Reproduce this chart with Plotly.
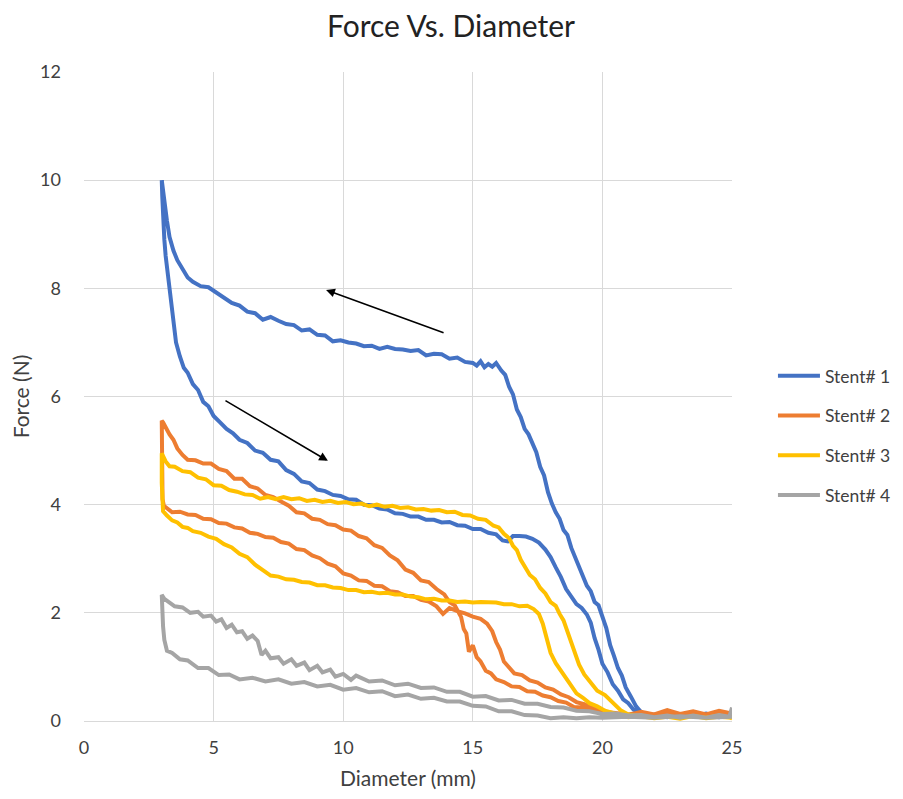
import plotly.graph_objects as go

# ---------------- data (diameter mm, force N) ----------------
stent1_crimp = [
    (25.0, 0.12), (24.5, 0.08), (24.0, 0.14), (23.5, 0.09), (23.0, 0.13), (22.5, 0.07),
    (22.0, 0.12), (21.7, 0.09), (21.5, 0.16), (21.3, 0.27), (21.1, 0.45), (20.9, 0.62),
    (20.75, 0.84), (20.6, 0.98), (20.45, 1.2), (20.3, 1.4), (20.15, 1.72), (20.0, 1.96),
    (19.85, 2.14), (19.7, 2.2), (19.55, 2.4), (19.4, 2.5), (19.25, 2.68), (19.1, 2.86),
    (18.95, 3.04), (18.8, 3.2), (18.65, 3.44), (18.5, 3.53), (18.35, 3.74), (18.2, 3.86),
    (18.05, 4.02), (17.9, 4.23), (17.75, 4.54), (17.6, 4.7), (17.45, 4.97), (17.3, 5.13),
    (17.15, 5.3), (17.0, 5.4), (16.85, 5.62), (16.7, 5.76), (16.55, 6.04), (16.4, 6.18),
    (16.25, 6.4), (16.1, 6.48), (15.9, 6.62), (15.75, 6.55), (15.6, 6.6), (15.45, 6.54),
    (15.3, 6.65), (15.15, 6.57), (15.0, 6.62), (14.7, 6.64), (14.4, 6.72), (14.1, 6.7),
    (13.8, 6.78), (13.5, 6.79), (13.2, 6.76), (12.9, 6.86), (12.6, 6.84), (12.3, 6.87),
    (12.0, 6.88), (11.7, 6.92), (11.4, 6.88), (11.1, 6.94), (10.8, 6.93), (10.5, 6.98),
    (10.2, 7.0), (9.9, 7.04), (9.6, 7.02), (9.3, 7.13), (9.0, 7.14), (8.7, 7.24),
    (8.4, 7.22), (8.1, 7.32), (7.8, 7.34), (7.5, 7.4), (7.2, 7.47), (6.9, 7.42),
    (6.6, 7.54), (6.3, 7.57), (6.0, 7.68), (5.7, 7.73), (5.4, 7.82), (5.1, 7.93),
    (4.8, 8.02), (4.5, 8.04), (4.2, 8.12), (4.0, 8.2), (3.8, 8.35), (3.6, 8.52),
    (3.45, 8.7), (3.3, 8.95), (3.2, 9.25), (3.1, 9.6), (3.03, 9.85), (3.0, 10.0),
]
stent1_release = [
    (3.0, 10.0), (3.02, 9.7), (3.05, 9.3), (3.1, 8.9), (3.15, 8.6), (3.2, 8.4),
    (3.3, 7.9), (3.4, 7.45), (3.55, 7.0), (3.7, 6.74), (3.85, 6.53), (4.0, 6.44),
    (4.2, 6.23), (4.4, 6.12), (4.6, 5.9), (4.8, 5.82), (5.0, 5.64), (5.25, 5.52),
    (5.5, 5.4), (5.75, 5.32), (6.0, 5.2), (6.3, 5.14), (6.6, 5.0), (6.9, 4.96),
    (7.2, 4.83), (7.5, 4.8), (7.8, 4.64), (8.1, 4.57), (8.4, 4.43), (8.7, 4.4),
    (9.0, 4.28), (9.3, 4.25), (9.6, 4.18), (9.9, 4.16), (10.2, 4.1), (10.5, 4.09),
    (10.8, 4.0), (11.1, 3.99), (11.4, 3.93), (11.7, 3.91), (12.0, 3.84), (12.3, 3.83),
    (12.6, 3.78), (12.9, 3.78), (13.2, 3.72), (13.5, 3.72), (13.8, 3.67), (14.1, 3.68),
    (14.4, 3.62), (14.7, 3.61), (15.0, 3.55), (15.3, 3.55), (15.6, 3.48), (15.9, 3.45),
    (16.15, 3.34), (16.35, 3.32), (16.55, 3.42), (16.8, 3.42), (17.05, 3.41), (17.3, 3.37),
    (17.55, 3.3), (17.8, 3.17), (18.0, 3.03), (18.2, 2.84), (18.4, 2.66), (18.6, 2.44),
    (18.8, 2.31), (19.0, 2.16), (19.2, 2.09), (19.4, 1.97), (19.55, 1.82), (19.7, 1.53),
    (19.85, 1.32), (20.0, 1.06), (20.2, 0.9), (20.4, 0.68), (20.6, 0.56), (20.8, 0.4),
    (21.0, 0.33), (21.2, 0.21), (21.4, 0.17), (21.6, 0.11), (22.0, 0.1), (22.5, 0.13),
    (23.0, 0.08), (23.5, 0.12), (24.0, 0.1), (24.5, 0.07), (25.0, 0.11),
]

stent2_crimp = [
    (25.0, 0.14), (24.5, 0.19), (24.0, 0.12), (23.5, 0.18), (23.0, 0.13), (22.5, 0.2),
    (22.0, 0.12), (21.5, 0.17), (21.0, 0.11), (20.5, 0.15), (20.0, 0.17), (19.6, 0.2),
    (19.2, 0.25), (18.9, 0.26), (18.6, 0.34), (18.3, 0.37), (18.0, 0.44), (17.7, 0.47),
    (17.4, 0.54), (17.1, 0.55), (16.8, 0.63), (16.5, 0.64), (16.2, 0.72), (15.9, 0.77),
    (15.7, 0.88), (15.5, 0.93), (15.3, 1.1), (15.15, 1.18), (15.0, 1.4), (14.85, 1.28),
    (14.75, 1.62), (14.65, 1.7), (14.55, 1.92), (14.45, 2.0), (14.3, 2.14), (14.1, 2.2),
    (13.9, 2.34), (13.6, 2.44), (13.3, 2.57), (13.0, 2.6), (12.7, 2.74), (12.4, 2.8),
    (12.1, 2.97), (11.8, 3.06), (11.5, 3.2), (11.2, 3.25), (10.9, 3.38), (10.6, 3.42),
    (10.3, 3.52), (10.0, 3.54), (9.7, 3.62), (9.4, 3.64), (9.1, 3.72), (8.8, 3.74),
    (8.5, 3.84), (8.2, 3.86), (7.9, 3.98), (7.6, 4.06), (7.3, 4.14), (7.0, 4.18),
    (6.7, 4.3), (6.4, 4.34), (6.1, 4.48), (5.8, 4.48), (5.5, 4.62), (5.2, 4.66),
    (4.9, 4.76), (4.6, 4.76), (4.3, 4.82), (4.0, 4.83), (3.8, 4.92), (3.6, 5.04),
    (3.45, 5.2), (3.3, 5.3), (3.15, 5.45), (3.05, 5.52), (3.0, 5.55),
]
stent2_release = [
    (3.0, 5.55), (3.0, 5.0), (3.02, 4.5), (3.03, 4.1), (3.08, 3.98), (3.2, 3.93),
    (3.4, 3.86), (3.7, 3.87), (4.0, 3.82), (4.3, 3.81), (4.6, 3.74), (4.9, 3.73),
    (5.2, 3.66), (5.5, 3.65), (5.8, 3.58), (6.1, 3.56), (6.4, 3.48), (6.7, 3.46),
    (7.0, 3.4), (7.3, 3.39), (7.6, 3.31), (7.9, 3.28), (8.2, 3.18), (8.5, 3.16),
    (8.8, 3.06), (9.1, 3.01), (9.4, 2.91), (9.7, 2.86), (10.0, 2.73), (10.3, 2.69),
    (10.6, 2.6), (10.9, 2.59), (11.2, 2.5), (11.5, 2.49), (11.8, 2.4), (12.1, 2.38),
    (12.4, 2.31), (12.7, 2.31), (13.0, 2.24), (13.3, 2.21), (13.6, 2.12), (13.85, 1.98),
    (14.1, 2.09), (14.4, 2.03), (14.7, 1.99), (15.0, 1.93), (15.3, 1.89), (15.55, 1.8),
    (15.75, 1.66), (15.9, 1.46), (16.05, 1.32), (16.2, 1.1), (16.4, 1.0), (16.6, 0.88),
    (16.9, 0.85), (17.2, 0.75), (17.5, 0.71), (17.8, 0.62), (18.1, 0.58), (18.4, 0.49),
    (18.7, 0.44), (19.0, 0.35), (19.3, 0.31), (19.6, 0.24), (19.9, 0.21), (20.2, 0.16),
    (20.5, 0.15), (21.0, 0.12), (21.5, 0.16), (22.0, 0.1), (22.5, 0.15), (23.0, 0.1),
    (23.5, 0.16), (24.0, 0.11), (24.5, 0.17), (25.0, 0.12),
]

stent3_crimp = [
    (25.0, 0.05), (24.5, 0.1), (24.0, 0.06), (23.5, 0.09), (23.0, 0.04), (22.5, 0.08),
    (22.0, 0.05), (21.5, 0.09), (21.0, 0.12), (20.7, 0.2), (20.4, 0.34), (20.1, 0.48),
    (19.8, 0.56), (19.5, 0.73), (19.3, 0.86), (19.1, 1.04), (18.95, 1.24), (18.8, 1.46),
    (18.65, 1.66), (18.5, 1.86), (18.35, 1.98), (18.2, 2.13), (18.0, 2.2), (17.8, 2.36),
    (17.6, 2.46), (17.4, 2.62), (17.2, 2.7), (17.0, 2.88), (16.85, 2.98), (16.7, 3.16),
    (16.55, 3.24), (16.4, 3.38), (16.2, 3.46), (16.0, 3.58), (15.8, 3.61), (15.5, 3.72),
    (15.2, 3.74), (14.9, 3.8), (14.6, 3.81), (14.3, 3.87), (14.0, 3.86), (13.7, 3.9),
    (13.4, 3.89), (13.1, 3.92), (12.8, 3.91), (12.5, 3.95), (12.2, 3.94), (11.9, 3.98),
    (11.6, 3.96), (11.3, 4.0), (11.0, 3.97), (10.7, 4.02), (10.4, 4.01), (10.1, 4.05),
    (9.8, 4.03), (9.5, 4.07), (9.2, 4.05), (8.9, 4.09), (8.6, 4.07), (8.3, 4.12),
    (8.0, 4.1), (7.7, 4.14), (7.4, 4.1), (7.1, 4.14), (6.8, 4.11), (6.5, 4.18),
    (6.2, 4.19), (5.9, 4.24), (5.6, 4.27), (5.3, 4.35), (5.0, 4.36), (4.7, 4.47),
    (4.4, 4.5), (4.1, 4.6), (3.8, 4.62), (3.5, 4.7), (3.3, 4.71), (3.15, 4.8),
    (3.05, 4.88), (3.0, 4.95),
]
stent3_release = [
    (3.0, 4.95), (3.0, 4.4), (3.02, 4.0), (3.05, 3.88), (3.2, 3.8), (3.4, 3.71),
    (3.6, 3.67), (3.8, 3.59), (4.0, 3.57), (4.2, 3.51), (4.5, 3.48), (4.8, 3.41),
    (5.1, 3.37), (5.4, 3.27), (5.7, 3.21), (6.0, 3.09), (6.3, 3.03), (6.6, 2.89),
    (6.9, 2.79), (7.2, 2.69), (7.5, 2.67), (7.8, 2.62), (8.1, 2.61), (8.4, 2.57),
    (8.7, 2.56), (9.0, 2.51), (9.3, 2.51), (9.6, 2.47), (9.9, 2.46), (10.2, 2.42),
    (10.5, 2.42), (10.8, 2.38), (11.1, 2.39), (11.4, 2.36), (11.7, 2.37), (12.0, 2.34),
    (12.3, 2.34), (12.6, 2.3), (12.9, 2.29), (13.2, 2.25), (13.5, 2.26), (13.8, 2.23),
    (14.1, 2.23), (14.4, 2.2), (14.7, 2.21), (15.0, 2.19), (15.3, 2.2), (15.6, 2.19),
    (15.9, 2.19), (16.2, 2.16), (16.5, 2.16), (16.8, 2.12), (17.1, 2.13), (17.35, 2.07),
    (17.55, 1.98), (17.7, 1.8), (17.85, 1.5), (18.0, 1.26), (18.2, 1.07), (18.4, 0.93),
    (18.6, 0.77), (18.8, 0.65), (19.0, 0.51), (19.25, 0.43), (19.5, 0.33), (19.8, 0.27),
    (20.1, 0.19), (20.4, 0.15), (20.7, 0.1), (21.0, 0.07), (21.5, 0.1), (22.0, 0.05),
    (22.5, 0.08), (23.0, 0.04), (23.5, 0.09), (24.0, 0.05), (24.5, 0.08), (25.0, 0.06),
]

stent4_crimp = [
    (25.0, 0.25), (24.9, 0.08), (24.5, 0.11), (24.0, 0.06), (23.5, 0.1), (23.0, 0.06),
    (22.5, 0.1), (22.0, 0.07), (21.5, 0.11), (21.0, 0.1), (20.5, 0.14), (20.0, 0.13),
    (19.5, 0.18), (19.0, 0.19), (18.5, 0.25), (18.0, 0.26), (17.5, 0.32), (17.0, 0.32),
    (16.5, 0.39), (16.0, 0.38), (15.5, 0.46), (15.0, 0.45), (14.5, 0.54), (14.0, 0.54),
    (13.5, 0.62), (13.0, 0.61), (12.5, 0.69), (12.0, 0.66), (11.5, 0.75), (11.0, 0.73),
    (10.5, 0.84), (10.3, 0.76), (10.0, 0.87), (9.7, 0.82), (9.5, 0.95), (9.2, 0.9),
    (9.0, 1.02), (8.7, 0.94), (8.5, 1.08), (8.2, 1.02), (8.0, 1.14), (7.7, 1.06),
    (7.5, 1.18), (7.2, 1.16), (7.0, 1.3), (6.85, 1.22), (6.7, 1.48), (6.5, 1.58),
    (6.3, 1.52), (6.1, 1.66), (5.9, 1.64), (5.7, 1.78), (5.5, 1.72), (5.3, 1.88),
    (5.1, 1.84), (4.9, 1.95), (4.6, 1.93), (4.4, 2.02), (4.1, 2.0), (3.8, 2.1),
    (3.5, 2.12), (3.3, 2.2), (3.1, 2.26), (3.0, 2.33),
]
stent4_release = [
    (3.0, 2.33), (3.02, 2.0), (3.05, 1.75), (3.1, 1.5), (3.2, 1.3), (3.4, 1.26),
    (3.7, 1.14), (4.0, 1.12), (4.4, 0.98), (4.8, 0.98), (5.2, 0.85), (5.6, 0.86),
    (6.0, 0.77), (6.5, 0.8), (7.0, 0.73), (7.5, 0.77), (8.0, 0.69), (8.5, 0.72),
    (9.0, 0.64), (9.5, 0.67), (10.0, 0.58), (10.5, 0.61), (11.0, 0.53), (11.5, 0.55),
    (12.0, 0.46), (12.5, 0.49), (13.0, 0.41), (13.5, 0.43), (14.0, 0.36), (14.5, 0.36),
    (15.0, 0.28), (15.5, 0.27), (16.0, 0.18), (16.5, 0.18), (17.0, 0.11), (17.5, 0.1),
    (18.0, 0.05), (18.5, 0.07), (19.0, 0.05), (19.5, 0.07), (20.0, 0.06), (21.0, 0.08),
    (22.0, 0.06), (23.0, 0.09), (24.0, 0.06), (25.0, 0.08),
]

series_names = ["Stent# 1", "Stent# 2", "Stent# 3", "Stent# 4"]
series_colors = ["#4472C4", "#ED7D31", "#FFC000", "#A5A5A5"]
series_loops = [
    (stent1_crimp, stent1_release),
    (stent2_crimp, stent2_release),
    (stent3_crimp, stent3_release),
    (stent4_crimp, stent4_release),
]

x_ticks = [0, 5, 10, 15, 20, 25]
y_ticks = [0, 2, 4, 6, 8, 10, 12]

FONT = "Lato, 'Open Sans', sans-serif"

fig = go.Figure()
for name, color, (crimp, release) in zip(series_names, series_colors, series_loops):
    pts = crimp + release
    fig.add_trace(go.Scatter(
        x=[p[0] for p in pts], y=[p[1] for p in pts],
        mode="lines", name=name, legendgroup=name,
        line=dict(color=color, width=4),
    ))

arrow_style = dict(showarrow=True, text="", arrowhead=2, arrowsize=1.1,
                   arrowwidth=1.6, arrowcolor="black", xref="x", yref="y",
                   axref="x", ayref="y")
fig.add_annotation(x=9.34, y=7.97, ax=13.93, ay=7.17, **arrow_style)
fig.add_annotation(x=9.41, y=4.81, ax=5.40, ay=5.94, **arrow_style)

# the page body adds an 8px margin, so the figure is sized to sit inside the window
fig.update_layout(
    width=887, height=783,
    margin=dict(l=76, r=163, t=64, b=70, autoexpand=False),
    paper_bgcolor="white", plot_bgcolor="white",
    font=dict(family=FONT, color="#404040", size=18),
    title=dict(text="Force Vs. Diameter", x=0.4995, xref="container", xanchor="center",
               y=1.0, yref="container", yanchor="top", pad=dict(t=8),
               font=dict(size=30, color="#222222", family=FONT)),
    legend=dict(x=1.0632, xanchor="left", y=0.44, yanchor="middle",
                traceorder="grouped", tracegroupgap=14, itemwidth=42,
                font=dict(size=17.5, color="#404040", family=FONT),
                bgcolor="rgba(0,0,0,0)"),
    xaxis=dict(range=[0, 25], tickvals=x_ticks, showgrid=True, gridcolor="#d9d9d9",
               gridwidth=1, zeroline=False, showline=True, linecolor="#d9d9d9",
               ticks="", ticklabelstandoff=10, tickfont=dict(size=18), automargin=False,
               title=dict(text="Diameter (mm)", font=dict(size=21, color="#404040"),
                          standoff=14)),
    yaxis=dict(range=[0, 12], tickvals=y_ticks, showgrid=True, gridcolor="#d9d9d9",
               gridwidth=1, zeroline=False, showline=False, automargin=False,
               ticks="", ticklabelstandoff=22, tickfont=dict(size=18),
               title=dict(text="Force (N)", font=dict(size=21, color="#404040"),
                          standoff=6)),
)

fig.write_html("out.html")
